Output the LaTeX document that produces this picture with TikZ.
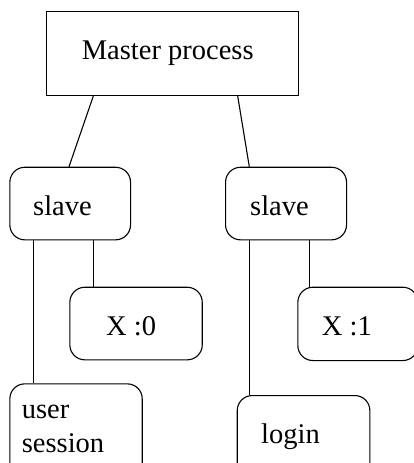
\documentclass[tikz,border=0pt]{standalone}
\usepackage{fontspec}
\setmainfont{Liberation Serif}
\begin{document}
\begin{tikzpicture}[x=1pt,y=-1pt,
  frame/.style={draw=black,line width=1.1pt,inner sep=0pt,anchor=north west},
  roundbox/.style={frame,rounded corners=15pt},
  label text/.style={inner sep=0pt,anchor=base west,font=\fontsize{28.5}{34}\selectfont},
  link/.style={draw=black,line width=1.1pt}]
\useasboundingbox (0,0) rectangle (414,463);
\clip (0,0) rectangle (414,463);

% boxes
\node[frame,minimum width=252.5pt,minimum height=84.5pt] (master) at (45.5,10.5) {};
\node[roundbox,minimum width=120.7pt,minimum height=72.6pt] (slaveA) at (9.3,166.7) {};
\node[roundbox,minimum width=132.4pt,minimum height=72.6pt] (xzero) at (69.3,286.7) {};
\node[roundbox,minimum width=132.4pt,minimum height=100pt] (session) at (9.3,383.3) {};
\node[roundbox,minimum width=121pt,minimum height=72.6pt] (slaveB) at (225,166.7) {};
\node[roundbox,minimum width=120pt,minimum height=73.3pt] (xone) at (297.3,286.7) {};
\node[roundbox,minimum width=132.6pt,minimum height=90pt] (login) at (236.7,395) {};

% texts
\node[label text] (tmaster) at (81.7,59.3) {Master process};
\node[label text] (tslaveA) at (33,215) {slave};
\node[label text] (tslaveB) at (250,215) {slave};
\node[label text] (txzero) at (106,335) {X :0};
\node[label text] (txone) at (321.7,335) {X :1};
\node[label text] (tuser) at (21.7,418) {user};
\node[label text] (tsession) at (21.7,452) {session};
\node[label text] (tlogin) at (261,443) {login};

% attachment columns
\coordinate (mL) at (93.3,0);
\coordinate (mR) at (237.7,0);
\coordinate (aT) at (69,0);
\coordinate (bT) at (249.3,0);
\coordinate (aL) at (33.5,0);
\coordinate (aR) at (93.5,0);
\coordinate (bL) at (249.5,0);
\coordinate (bR) at (309.5,0);

% connectors
\draw[link] (master.south -| mL) -- (slaveA.north -| aT);
\draw[link] (master.south -| mR) -- (slaveB.north -| bT);
\draw[link] (slaveA.south -| aL) -- (session.north -| aL);
\draw[link] (slaveA.south -| aR) -- (xzero.north -| aR);
\draw[link] (slaveB.south -| bL) -- (login.north -| bL);
\draw[link] (slaveB.south -| bR) -- (xone.north -| bR);
\end{tikzpicture}
\end{document}
